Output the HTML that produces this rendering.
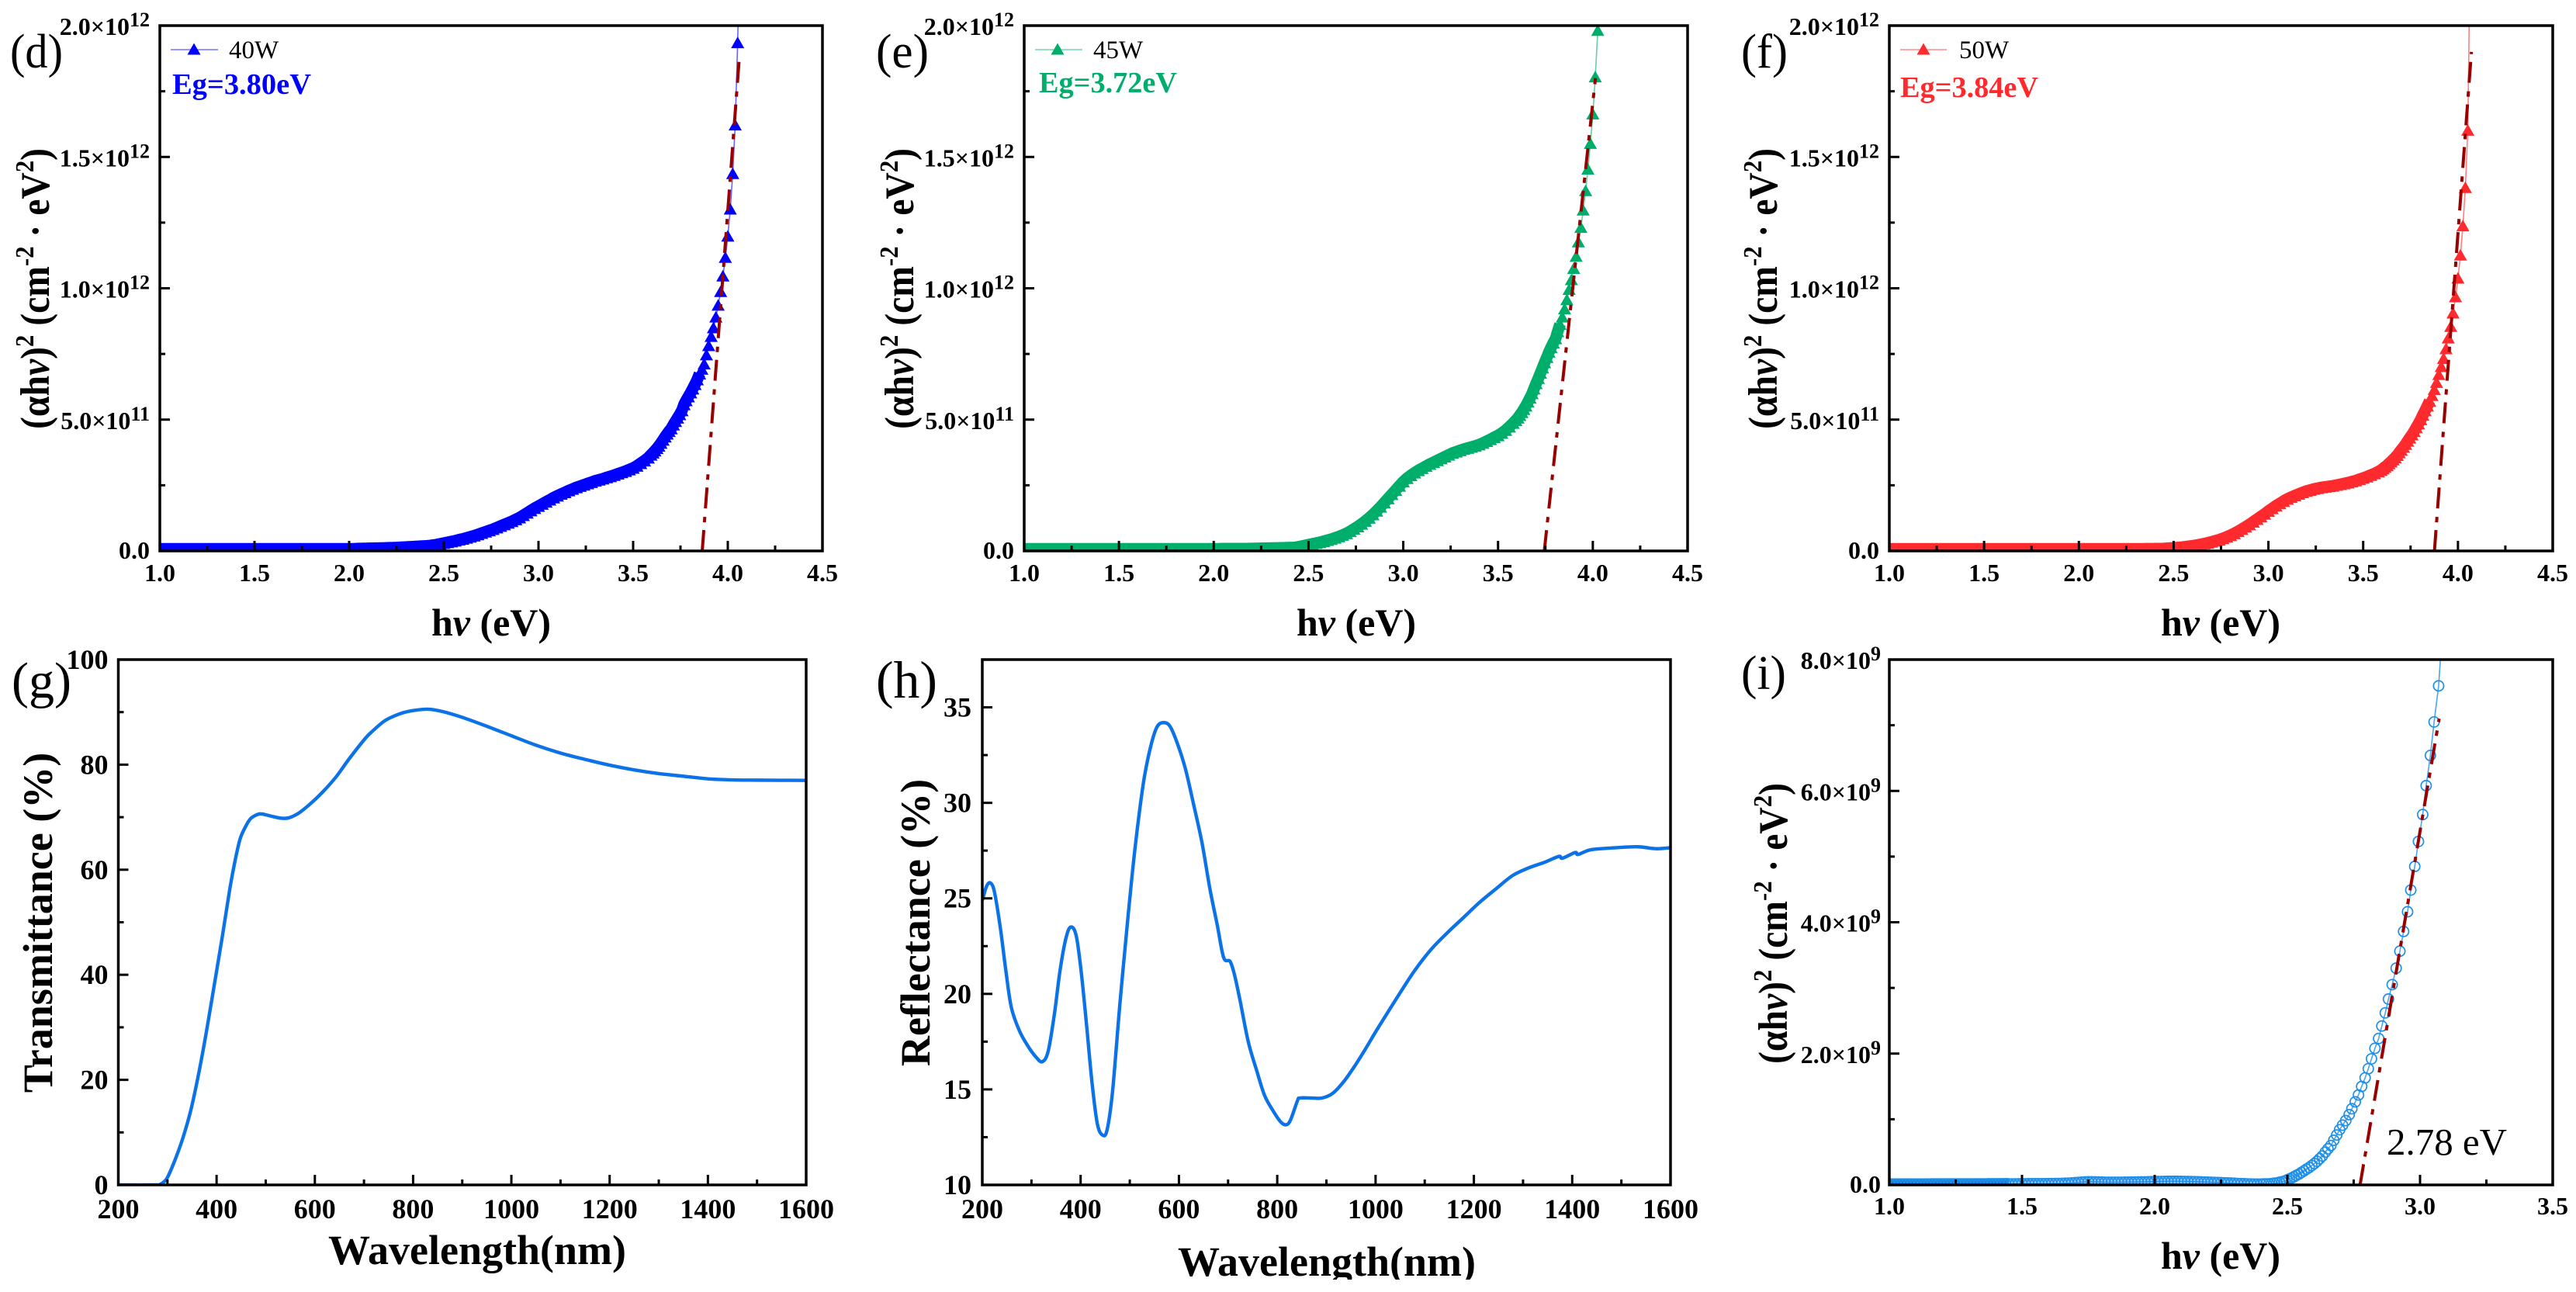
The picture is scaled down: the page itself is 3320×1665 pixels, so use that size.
<!DOCTYPE html>
<html>
<head>
<meta charset="utf-8">
<title>Optical band gap, transmittance and reflectance panels</title>
<style>
html,body{margin:0;padding:0;background:#fff;width:3320px;height:1665px;overflow:hidden}
svg{display:block}
text{font-family:"Liberation Serif","Noto Serif CJK SC",serif;fill:#000}
.b{font-weight:700}
.ytitle,.xtitle{font-weight:700}
</style>
</head>
<body>
<svg id="fig" xmlns="http://www.w3.org/2000/svg" width="3320" height="1665" viewBox="0 0 3320 1665">
<rect width="3320" height="1665" fill="#fff"/>
<defs>
<clipPath id="clip-d"><rect x="206" y="33" width="854" height="677"/></clipPath>
<clipPath id="clip-e"><rect x="1320" y="33" width="855" height="677"/></clipPath>
<clipPath id="clip-f"><rect x="2435" y="33" width="855" height="677"/></clipPath>
<clipPath id="clip-g"><rect x="152.500" y="850" width="886.500" height="677"/></clipPath>
<clipPath id="clip-h"><rect x="1266" y="850" width="887" height="677"/></clipPath>
<clipPath id="clip-i"><rect x="2435" y="850" width="855" height="677"/></clipPath>
</defs>
<g id="layer-data"></g>

<!-- frames -->
<rect x="206" y="33" width="854" height="677" fill="none" stroke="#000" stroke-width="3.5"/>
<rect x="1320" y="33" width="855" height="677" fill="none" stroke="#000" stroke-width="3.5"/>
<rect x="2435" y="33" width="855" height="677" fill="none" stroke="#000" stroke-width="3.5"/>
<rect x="152.500" y="850" width="886.500" height="677" fill="none" stroke="#000" stroke-width="3.5"/>
<rect x="1266" y="850" width="887" height="677" fill="none" stroke="#000" stroke-width="3.5"/>
<rect x="2435" y="850" width="855" height="677" fill="none" stroke="#000" stroke-width="3.5"/>

<!-- panel letters -->
<text x="13" y="87" font-size="62" textLength="68" lengthAdjust="spacingAndGlyphs">(d)</text>
<text x="1129" y="87" font-size="62" textLength="68" lengthAdjust="spacingAndGlyphs">(e)</text>
<text x="2244" y="87" font-size="62" textLength="60" lengthAdjust="spacingAndGlyphs">(f)</text>
<text x="15" y="899" font-size="66" textLength="77" lengthAdjust="spacingAndGlyphs">(g)</text>
<text x="1129" y="899" font-size="68" textLength="79" lengthAdjust="spacingAndGlyphs">(h)</text>
<text x="2244" y="888" font-size="62" textLength="58" lengthAdjust="spacingAndGlyphs">(i)</text>

<!-- x axis titles -->
<text class="xtitle" x="633" y="819" font-size="50" text-anchor="middle">h<tspan font-style="italic">ν</tspan> (eV)</text>
<text class="xtitle" x="1748" y="819" font-size="50" text-anchor="middle">h<tspan font-style="italic">ν</tspan> (eV)</text>
<text class="xtitle" x="2862" y="819" font-size="50" text-anchor="middle">h<tspan font-style="italic">ν</tspan> (eV)</text>
<text class="xtitle" x="615" y="1629" font-size="54" text-anchor="middle">Wavelength(nm)</text>
<text class="xtitle" x="1710" y="1644" font-size="54" text-anchor="middle">Wavelength(nm)</text>
<rect x="1400" y="1649" width="600" height="16" fill="#fff"/>
<text class="xtitle" x="2862" y="1635" font-size="50" text-anchor="middle">h<tspan font-style="italic">ν</tspan> (eV)</text>

<!-- y axis titles -->
<text class="ytitle" transform="translate(63 372) rotate(-90) scale(.9 1)" font-size="53" text-anchor="middle">(αh<tspan font-style="italic">ν</tspan>)<tspan font-size="34" dy="-20">2</tspan><tspan dy="20"> (cm</tspan><tspan font-size="34" dy="-20">-2</tspan><tspan dy="20"> · eV</tspan><tspan font-size="34" dy="-20">2</tspan><tspan dy="20">)</tspan></text>
<text class="ytitle" transform="translate(1177 372) rotate(-90) scale(.9 1)" font-size="53" text-anchor="middle">(αh<tspan font-style="italic">ν</tspan>)<tspan font-size="34" dy="-20">2</tspan><tspan dy="20"> (cm</tspan><tspan font-size="34" dy="-20">-2</tspan><tspan dy="20"> · eV</tspan><tspan font-size="34" dy="-20">2</tspan><tspan dy="20">)</tspan></text>
<text class="ytitle" transform="translate(2290 372) rotate(-90) scale(.9 1)" font-size="53" text-anchor="middle">(αh<tspan font-style="italic">ν</tspan>)<tspan font-size="34" dy="-20">2</tspan><tspan dy="20"> (cm</tspan><tspan font-size="34" dy="-20">-2</tspan><tspan dy="20"> · eV</tspan><tspan font-size="34" dy="-20">2</tspan><tspan dy="20">)</tspan></text>
<text class="ytitle" transform="translate(67 1189) rotate(-90)" font-size="54" text-anchor="middle">Transmittance (%)</text>
<text class="ytitle" transform="translate(1198 1189) rotate(-90)" font-size="54" text-anchor="middle">Reflectance (%)</text>
<text class="ytitle" transform="translate(2303 1190) rotate(-90) scale(.9 1)" font-size="53" text-anchor="middle">(αh<tspan font-style="italic">ν</tspan>)<tspan font-size="34" dy="-20">2</tspan><tspan dy="20"> (cm</tspan><tspan font-size="34" dy="-20">-2</tspan><tspan dy="20"> · eV</tspan><tspan font-size="34" dy="-20">2</tspan><tspan dy="20">)</tspan></text>

<!-- legends -->
<g>
<line x1="220" y1="64" x2="281" y2="64" stroke="#0000ff" stroke-opacity=".55" stroke-width="1.6"/>
<polygon points="250,55.500 241.500,70.500 258.500,70.500" fill="#0000ff"/>
<text x="295" y="75" font-size="33">40W</text>
<text class="b" x="222" y="121" font-size="38" style="fill:#0000ff" textLength="179" lengthAdjust="spacingAndGlyphs">Eg=3.80eV</text>
</g>
<g>
<line x1="1334" y1="64" x2="1395" y2="64" stroke="#00ae6c" stroke-opacity=".55" stroke-width="1.6"/>
<polygon points="1363,55.500 1354.500,70.500 1371.500,70.500" fill="#00ae6c"/>
<text x="1409" y="75" font-size="33">45W</text>
<text class="b" x="1339" y="119" font-size="38" style="fill:#00ae6c" textLength="178" lengthAdjust="spacingAndGlyphs">Eg=3.72eV</text>
</g>
<g>
<line x1="2449" y1="64" x2="2509" y2="64" stroke="#ff2a2e" stroke-opacity=".55" stroke-width="1.6"/>
<polygon points="2479,55.500 2470.500,70.500 2487.500,70.500" fill="#ff2a2e"/>
<text x="2525" y="75" font-size="33">50W</text>
<text class="b" x="2449" y="125" font-size="38" style="fill:#ff2a2e" textLength="178" lengthAdjust="spacingAndGlyphs">Eg=3.84eV</text>
</g>
<text x="3076" y="1488" font-size="49" textLength="155" lengthAdjust="spacingAndGlyphs">2.78 eV</text>

<script>
// ---------- shared photon-energy grid for panels d, e, f (eV) ----------
const hvSteep = [4.066,4.052,4.039,4.026,4.013,4.000,3.987,3.974,3.962,3.949,
3.937,3.924,3.912,3.899,3.887,3.875,3.863,3.851,3.839,3.827,
3.815,3.804,3.792,3.780,3.769,3.758,3.746,3.735,3.724,3.713,
3.701,3.690,3.680,3.669,3.658,3.647,3.636,3.626,3.615,3.605,3.594];
const hvShoulder = [3.58,3.56,3.54,3.52,3.50,3.48,3.46,3.44,3.42,3.40,
3.38,3.36,3.34,3.32,3.30,3.28,3.26,3.24,3.22,3.20,
3.18,3.16,3.14,3.12,3.10,3.08,3.06,3.04,3.02,3.00,
2.98,2.96,2.94,2.92,2.90,2.88,2.86,2.84,2.82,2.80,
2.78,2.76,2.74,2.72,2.70,2.68,2.66,2.64,2.62,2.60,
2.58,2.56,2.54,2.52,2.50,2.48,2.46,2.44,2.42];
const hvFlat = [2.4,2.3875,2.375,2.3625,2.35,2.3375,2.325,2.3125,2.3,2.2875,
2.275,2.2625,2.25,2.2375,2.225,2.2125,2.2,2.1875,2.175,2.1625,
2.15,2.1375,2.125,2.1125,2.1,2.0875,2.075,2.0625,2.05,2.0375,
2.025,2.0125,2,1.9875,1.975,1.9625,1.95,1.9375,1.925,1.9125,
1.9,1.8875,1.875,1.8625,1.85,1.8375,1.825,1.8125,1.8,1.7875,
1.775,1.7625,1.75,1.7375,1.725,1.7125,1.7,1.6875,1.675,1.6625,
1.65,1.6375,1.625,1.6125,1.6,1.5875,1.575,1.5625,1.55,1.5375,
1.525,1.5125,1.5,1.4875,1.475,1.4625,1.45,1.4375,1.425,1.4125,
1.4,1.3875,1.375,1.3625,1.35,1.3375,1.325,1.3125,1.3,1.2875,
1.275,1.2625,1.25,1.2375,1.225,1.2125,1.2,1.1875,1.175,1.1625,
1.15,1.1375,1.125,1.1125,1.1,1.0875,1.075,1.0625,1.05,1.0375,
1.025,1.0125,1];

// ---------- 40 W series, units of 1e12 ----------
const steep40 = [2.40,1.933,1.62,1.435,1.30,1.197,1.116,1.045,.986,.934,
.889,.848,.815,.78,.745,.71,.69,.672,.65,.632,
.615,.60,.585,.57,.555,.532,.517,.504,.491,.478,
.463,.453,.443,.432,.42,.408,.397,.388,.379,.371,.363];
const shoulder40 = [.352,.341,.331,.321,.313,.307,.301,.296,.291,.286,
.281,.277,.272,.268,.264,.259,.254,.249,.244,.239,
.233,.227,.22,.214,.207,.2,.192,.184,.176,.168,
.16,.151,.142,.133,.124,.117,.11,.104,.098,.092,
.086,.08,.075,.07,.065,.06,.055,.051,.047,.043,
.04,.036,.033,.03,.027,.024,.021,.019,.017];
const flat40 = [.016,.0155,.015,.0145,.014,.0135,.013,.0125,.012,.0115,
.011,.0105,.01,.0097,.0094,.0091,.0088,.0085,.0082,.008,
.0078,.0076,.0074,.0072,.007,.0068,.0066,.0064,.0062,.006,
.005,.005,.005,.005,.005,.005,.005,.005,.005,.005,
.005,.005,.005,.005,.005,.005,.005,.005,.005,.005,
.005,.005,.005,.005,.005,.005,.005,.005,.005,.005,
.005,.005,.005,.005,.005,.005,.005,.005,.005,.005,
.005,.005,.005,.005,.005,.005,.005,.005,.005,.005,
.005,.005,.005,.005,.005,.005,.005,.005,.005,.005,
.005,.005,.005,.005,.005,.005,.005,.005,.005,.005,
.005,.005,.005,.005,.005,.005,.005,.005,.005,.005,
.005,.005,.005];

// ---------- 45 W series, units of 1e12 (starts at 4.039 eV) ----------
const steep45 = [2.3,1.98,1.803,1.662,1.55,1.452,1.37,1.296,1.23,
1.175,1.12,1.074,1.031,.994,.955,.92,.889,.861,.833,.806,
.79,.772,.755,.735,.715,.695,.675,.655,.635,.615,
.597,.58,.565,.55,.537,.525,.514,.504,.495];
const shoulder45 = [.484,.47,.457,.446,.437,.43,.422,.415,.408,.402,
.397,.393,.389,.385,.38,.375,.37,.363,.356,.349,
.342,.335,.328,.32,.312,.304,.295,.285,.274,.261,
.245,.229,.213,.197,.181,.165,.15,.136,.123,.111,
.1,.09,.081,.072,.064,.058,.052,.047,.042,.038,
.034,.03,.027,.024,.021,.018,.015,.012,.01];
const flat45 = [.0098,.0095,.0092,.009,.0088,.0086,.0084,.0082,.008,.0078,
.0076,.0074,.0072,.007,.0068,.0066,.0064,.0062,.006,.006,
.006,.006,.006,.006,.006,.006,.006,.006,.006,.006,
.005,.005,.005,.005,.005,.005,.005,.005,.005,.005,
.005,.005,.005,.005,.005,.005,.005,.005,.005,.005,
.005,.005,.005,.005,.005,.005,.005,.005,.005,.005,
.005,.005,.005,.005,.005,.005,.005,.005,.005,.005,
.005,.005,.005,.005,.005,.005,.005,.005,.005,.005,
.005,.005,.005,.005,.005,.005,.005,.005,.005,.005,
.005,.005,.005,.005,.005,.005,.005,.005,.005,.005,
.005,.005,.005,.005,.005,.005,.005,.005,.005,.005,
.005,.005,.005];

// ---------- 50 W series, units of 1e12 ----------
const steep50 = [2.40,1.60,1.382,1.236,1.125,1.037,.966,.904,.853,.809,
.768,.731,.70,.67,.64,.613,.59,.568,.55,.532,
.515,.498,.482,.467,.453,.44,.428,.416,.404,.393,
.382,.372,.362,.353,.345,.337,.33,.323,.317,.311,.305];
const shoulder50 = [.299,.292,.286,.28,.275,.27,.265,.261,.257,.254,
.251,.248,.245,.243,.241,.239,.236,.233,.229,.225,
.22,.214,.208,.202,.195,.187,.178,.169,.159,.149,
.138,.128,.118,.108,.098,.089,.08,.072,.064,.057,
.051,.045,.04,.036,.032,.028,.025,.022,.019,.017,
.015,.013,.011,.01,.009,.008,.007,.006,.006];
const flat50 = [.0058,.0057,.0056,.0055,.0054,.0053,.0052,.0052,.0051,.0051,
.005,.005,.005,.005,.005,.005,.005,.005,.005,.005,
.005,.005,.005,.005,.005,.005,.005,.005,.005,.005,
.005,.005,.005,.005,.005,.005,.005,.005,.005,.005,
.005,.005,.005,.005,.005,.005,.005,.005,.005,.005,
.005,.005,.005,.005,.005,.005,.005,.005,.005,.005,
.005,.005,.005,.005,.005,.005,.005,.005,.005,.005,
.005,.005,.005,.005,.005,.005,.005,.005,.005,.005,
.005,.005,.005,.005,.005,.005,.005,.005,.005,.005,
.005,.005,.005,.005,.005,.005,.005,.005,.005,.005,
.005,.005,.005,.005,.005,.005,.005,.005,.005,.005,
.005,.005,.005];

// ---------- panel i, units of 1e9 ----------
const hvFilm = [3.09,3.07,3.053,3.039,3.023,3.01,2.994,2.98,2.965,2.953,2.938,2.924,2.91,2.895,2.881,2.869,2.856,2.844,2.83,2.817,
2.805,2.793,2.78,2.768,2.756,2.743,2.733,2.72,2.708,2.697,2.686,2.675,2.664,2.653,2.643,2.632,2.622,2.612,2.602,2.592,
2.582,2.572,2.563,2.553,2.544,2.534,2.525,2.516,2.507,2.498,2.49,2.48,2.47,2.46,2.45,2.44,2.43,2.42,2.41];
const filmRise = [8.8,7.60,7.05,6.54,6.08,5.64,5.23,4.85,4.49,4.16,3.86,3.56,3.30,3.05,2.83,2.62,2.42,2.23,2.08,1.92,
1.77,1.63,1.50,1.37,1.265,1.16,1.07,.98,.91,.84,.76,.68,.6,.55,.5,.44,.4,.36,.325,.295,
.265,.24,.215,.19,.165,.145,.125,.105,.09,.075,.06,.05,.04,.03,.025,.02,.015,.015,.015];
const filmFlat = [.012,.012,.013,.014,.016,.018,.02,.022,.025,.028,
.03,.032,.034,.036,.038,.04,.042,.044,.046,.048,
.05,.051,.052,.053,.054,.055,.055,.055,.055,.054,
.053,.052,.05,.049,.048,.047,.046,.045,.044,.043,
.042,.042,.041,.04,.04,.04,.04,.041,.043,.045,
.047,.048,.048,.046,.042,.038,.034,.03,.027,.025,
.023,.022,.021,.02,.02,.019,.019,.018,.018,.018,
.018,.017,.017,.017,.016,.016,.016,.016,.015,.015,
.015,.015,.015,.014,.014,.014,.014,.014,.014,.014,
.013,.013,.013,.013,.013,.013,.013,.013,.013,.013,
.012,.012,.012,.012,.012,.012,.012,.012,.012,.012,
.012,.012,.012];

// ---------- Tauc fit lines (eV, value) ----------
const fit40X = [3.865,4.06];  const fit40Y = [0,1.87];
const fit45X = [3.744,4.014]; const fit45Y = [0,1.80];
const fit50X = [3.876,4.071]; const fit50Y = [0,1.90];
const fitFilmX = [2.774,3.072]; const fitFilmY = [0,7.1];

// ---------- transmittance ----------
const transWavelength = [200,280,285,293,301,316,332,348,364,379,395,411,427,438,448,459,469,483,493,511,532,548,569,595,617,643,669,700,713,740,760,780,800,830,860,900,950,1000,1050,1100,1150,1200,1250,1300,1350,1400,1450,1500,1600];
const transValue = [0,0,.1,.6,1.6,4.9,9.1,14.4,21.4,29,37.9,46.9,56.4,61.9,65.9,68.2,69.7,70.5,70.6,70.2,69.8,69.9,70.9,72.9,74.9,77.65,81,84.7,86,88.2,89.2,89.9,90.3,90.55,90.1,89,87.3,85.5,83.7,82.2,81,79.9,79,78.3,77.8,77.3,77.1,77.05,77];

// ---------- reflectance ----------
const reflWavelength = [200,209,217,225,237,248,259,275,292,309,322,334,347,358,370,380,391,401,412,423,434,445,454,465,480,497,508,519,530,544,556,569,582,597,613,630,647,663,678,691,704,713,724,741,758,774,791,807,818,827,841,846,868,891,913,935,957,979,1001,1024,1046,1079,1112,1146,1179,1212,1245,1279,1312,1345,1373,1380,1406,1412,1439,1489,1533,1570,1600];
const reflValue = [24.9,25.65,25.8,25.3,23.4,21.2,19.3,18.1,17.3,16.7,16.45,17,19,21.2,22.9,23.5,23.05,21.2,18.4,15.4,13.2,12.6,12.9,14.9,19.5,24.2,27,29.4,31.4,33.1,34,34.2,34,33.1,31.8,29.9,27.9,25.5,23.6,21.9,21.7,21,19.7,17.5,16,14.7,13.9,13.3,13.15,13.4,14.4,14.55,14.55,14.55,14.8,15.4,16.2,17.1,18.05,19,19.9,21.2,22.3,23.2,24,24.8,25.5,26.2,26.6,26.9,27.2,27.1,27.4,27.3,27.55,27.65,27.7,27.6,27.65];

// ---------- tick values and printed labels ----------
const tauc1Ticks = [1,1.5,2,2.5,3,3.5,4,4.5];
const tauc1TickLabels = ['1.0','1.5','2.0','2.5','3.0','3.5','4.0','4.5'];
const tauc1Minor = [1.25,1.75,2.25,2.75,3.25,3.75,4.25];
const taucYTicks = [0,.5,1,1.5,2];
const taucYLabels = ['0.0','5.0×10','1.0×10','1.5×10','2.0×10'];
const taucYExps = ['','11','12','12','12'];
const taucYMinor = [.25,.75,1.25,1.75];
const waveTicks = [200,400,600,800,1000,1200,1400,1600];
const waveTickLabels = ['200','400','600','800','1000','1200','1400','1600'];
const waveMinor = [300,500,700,900,1100,1300,1500];
const transYTicks = [0,20,40,60,80,100];
const transYLabels = ['0','20','40','60','80','100'];
const transYMinor = [10,30,50,70,90];
const reflYTicks = [10,15,20,25,30,35];
const reflYLabels = ['10','15','20','25','30','35'];
const reflYMinor = [12.5,17.5,22.5,27.5,32.5];
const filmXTicks = [1,1.5,2,2.5,3,3.5];
const filmXLabels = ['1.0','1.5','2.0','2.5','3.0','3.5'];
const filmXMinor = [1.25,1.75,2.25,2.75,3.25];
const filmYTicks = [0,2,4,6,8];
const filmYLabels = ['0.0','2.0×10','4.0×10','6.0×10','8.0×10'];
const filmYExps = ['','9','9','9','9'];
const filmYMinor = [1,3,5,7];

const NS = 'http://www.w3.org/2000/svg';
const layer = document.getElementById('layer-data');

function makeScale(d0, d1, r0, r1) {
  return function (v) { return r0 + (v - d0) * (r1 - r0) / (d1 - d0); };
}
function pathFrom(xs, ys, sx, sy) {
  let d = '';
  for (let i = 0; i < xs.length; i++) {
    d += (i ? 'L' : 'M') + sx(xs[i]).toFixed(2) + ' ' + sy(ys[i]).toFixed(2);
  }
  return d;
}
function smoothPathFrom(xs, ys, sx, sy) {
  const n = xs.length;
  function X(i) { return sx(xs[Math.max(0, Math.min(n - 1, i))]); }
  function Y(i) { return sy(ys[Math.max(0, Math.min(n - 1, i))]); }
  let d = 'M' + X(0).toFixed(2) + ' ' + Y(0).toFixed(2);
  for (let i = 0; i < n - 1; i++) {
    d += 'C' + (X(i) + (X(i + 1) - X(i - 1)) / 6).toFixed(2) + ' ' + (Y(i) + (Y(i + 1) - Y(i - 1)) / 6).toFixed(2) +
      ' ' + (X(i + 1) - (X(i + 2) - X(i)) / 6).toFixed(2) + ' ' + (Y(i + 1) - (Y(i + 2) - Y(i)) / 6).toFixed(2) +
      ' ' + X(i + 1).toFixed(2) + ' ' + Y(i + 1).toFixed(2);
  }
  return d;
}

function drawAxes(p) {
  const sx = p.sx, sy = p.sy;
  const g = document.createElementNS(NS, 'g');
  
  
  layer.appendChild(g);
  function tick(x1, y1, x2, y2, w) {
    const t = document.createElementNS(NS, 'line');
    
    
    t.setAttribute('x1', x1); t.setAttribute('y1', y1);
    t.setAttribute('x2', x2); t.setAttribute('y2', y2);
    t.setAttribute('stroke', '#000');
    t.setAttribute('stroke-width', w);
    g.appendChild(t);
  }
  p.xTicks.forEach(function (v, i) {
    const x = sx(v);
    tick(x, p.y1, x, p.y1 - 13, 3);
    const t = document.createElementNS(NS, 'text');
    
    
    t.setAttribute('x', x);
    t.setAttribute('y', p.y1 + p.xLabelDy);
    t.setAttribute('text-anchor', 'middle');
    t.setAttribute('font-size', p.tickFont);
    t.setAttribute('font-weight', '700');
    t.textContent = p.xLabels[i];
    g.appendChild(t);
  });
  p.xMinor.forEach(function (v) { tick(sx(v), p.y1, sx(v), p.y1 - 7, 3); });
  p.yTicks.forEach(function (v, i) {
    const y = sy(v);
    tick(p.x0, y, p.x0 + 13, y, 3);
    const t = document.createElementNS(NS, 'text');
    
    
    t.setAttribute('x', p.x0 - p.yLabelGap);
    t.setAttribute('y', y + (i === 0 && p.yExps ? 10 : 12));
    t.setAttribute('text-anchor', 'end');
    t.setAttribute('font-size', p.tickFont);
    t.setAttribute('font-weight', '700');
    const main = document.createElementNS(NS, 'tspan');
    main.textContent = p.yLabels[i];
    t.appendChild(main);
    if (p.yExps && p.yExps[i]) {
      const sup = document.createElementNS(NS, 'tspan');
      sup.setAttribute('dy', '-11');
      sup.setAttribute('font-size', '26');
      sup.textContent = p.yExps[i];
      t.appendChild(sup);
    }
    g.appendChild(t);
  });
  p.yMinor.forEach(function (v) { tick(p.x0, sy(v), p.x0 + 7, sy(v), 3); });
}

function drawThinLine(p, xs, ys, color, opacity, width, name) {
  const line = document.createElementNS(NS, 'path');
  
  
  line.setAttribute('d', pathFrom(xs, ys, p.sx, p.sy));
  line.setAttribute('fill', 'none');
  line.setAttribute('stroke', color);
  line.setAttribute('stroke-opacity', opacity);
  line.setAttribute('stroke-width', width);
  line.setAttribute('stroke-linejoin', 'round');
  line.setAttribute('clip-path', 'url(#clip-' + p.id + ')');
  layer.appendChild(line);
}

function drawSmoothCurve(p, xs, ys, color, width, name) {
  const line = document.createElementNS(NS, 'path');
  
  
  line.setAttribute('d', smoothPathFrom(xs, ys, p.sx, p.sy));
  line.setAttribute('fill', 'none');
  line.setAttribute('stroke', color);
  line.setAttribute('stroke-width', width);
  line.setAttribute('stroke-linejoin', 'round');
  line.setAttribute('clip-path', 'url(#clip-' + p.id + ')');
  layer.appendChild(line);
}

// densely overlapping markers merge into a solid band; this fills the gaps between them
function drawBand(p, xs, ys, color, width, opacity, lift, name) {
  const wrap = document.createElementNS(NS, 'g');
  
  
  wrap.setAttribute('clip-path', 'url(#clip-' + p.id + ')');
  layer.appendChild(wrap);
  const band = document.createElementNS(NS, 'path');
  
  
  band.setAttribute('d', pathFrom(xs, ys, p.sx, p.sy));
  band.setAttribute('transform', 'translate(0 ' + (-lift) + ')');
  band.setAttribute('fill', 'none');
  band.setAttribute('stroke', color);
  band.setAttribute('stroke-opacity', opacity);
  band.setAttribute('stroke-width', width);
  band.setAttribute('stroke-linejoin', 'round');
  wrap.appendChild(band);
}

function drawFit(p, xs, ys) {
  const f = document.createElementNS(NS, 'path');
  
  
  f.setAttribute('d', pathFrom(xs, ys, p.sx, p.sy));
  f.setAttribute('fill', 'none');
  f.setAttribute('stroke', '#990000');
  f.setAttribute('stroke-width', '4');
  f.setAttribute('stroke-dasharray', '27 10 7 11');
  f.setAttribute('clip-path', 'url(#clip-' + p.id + ')');
  layer.appendChild(f);
}

function drawTriangles(p, xs, ys, color, name) {
  const g = document.createElementNS(NS, 'g');
  
  
  g.setAttribute('clip-path', 'url(#clip-' + p.id + ')');
  layer.appendChild(g);
  for (let i = 0; i < xs.length; i++) {
    const cx = p.sx(xs[i]), cy = p.sy(ys[i]);
    const m = document.createElementNS(NS, 'polygon');
    
    
    m.setAttribute('points', cx + ',' + (cy - 8.5) + ' ' + (cx - 8.5) + ',' + (cy + 6.5) + ' ' + (cx + 8.5) + ',' + (cy + 6.5));
    m.setAttribute('fill', color);
    g.appendChild(m);
  }
}

function drawCircles(p, xs, ys, color, name) {
  const g = document.createElementNS(NS, 'g');
  
  
  g.setAttribute('clip-path', 'url(#clip-' + p.id + ')');
  layer.appendChild(g);
  for (let i = 0; i < xs.length; i++) {
    const m = document.createElementNS(NS, 'circle');
    
    
    m.setAttribute('cx', p.sx(xs[i]));
    m.setAttribute('cy', p.sy(ys[i]));
    m.setAttribute('r', '6.6');
    m.setAttribute('fill', 'none');
    m.setAttribute('stroke', color);
    m.setAttribute('stroke-width', '1.7');
    g.appendChild(m);
  }
}

function taucPanel(id, x0, x1) {
  return {
    id: id, x0: x0, x1: x1, y0: 33, y1: 710,
    sx: makeScale(1, 4.5, x0, x1), sy: makeScale(0, 2, 710, 33),
    xTicks: tauc1Ticks, xLabels: tauc1TickLabels, xMinor: tauc1Minor,
    yTicks: taucYTicks, yLabels: taucYLabels, yExps: taucYExps, yMinor: taucYMinor,
    tickFont: 32, xLabelDy: 39, yLabelGap: 13
  };
}

const panelD = taucPanel('d', 206, 1060);
const panelE = taucPanel('e', 1320, 2175);
const panelF = taucPanel('f', 2435, 3290);

const hv40 = hvSteep.concat(hvShoulder, hvFlat);
const y40 = steep40.concat(shoulder40, flat40);
drawThinLine(panelD, hv40, y40, '#0000ff', .6, 1.6, 'series-line-40w');
drawBand(panelD, hvSteep.slice(17).concat(hvShoulder, hvFlat), steep40.slice(17).concat(shoulder40, flat40), '#0000ff', 15, 1, 1, 'series-band-40w');
drawTriangles(panelD, hv40, y40, '#0000ff', 'series-markers-40w');
drawFit(panelD, fit40X, fit40Y);
drawAxes(panelD);

const hv45 = hvSteep.slice(2).concat(hvShoulder, hvFlat);
const y45 = steep45.concat(shoulder45, flat45);
drawThinLine(panelE, hv45, y45, '#00ae6c', .6, 1.6, 'series-line-45w');
drawBand(panelE, hvSteep.slice(19).concat(hvShoulder, hvFlat), steep45.slice(17).concat(shoulder45, flat45), '#00ae6c', 15, 1, 1, 'series-band-45w');
drawTriangles(panelE, hv45, y45, '#00ae6c', 'series-markers-45w');
drawFit(panelE, fit45X, fit45Y);
drawAxes(panelE);

const hv50 = hvSteep.concat(hvShoulder, hvFlat);
const y50 = steep50.concat(shoulder50, flat50);
drawThinLine(panelF, hv50, y50, '#ff2a2e', .6, 1.6, 'series-line-50w');
drawBand(panelF, hvSteep.slice(17).concat(hvShoulder, hvFlat), steep50.slice(17).concat(shoulder50, flat50), '#ff2a2e', 15, 1, 1, 'series-band-50w');
drawTriangles(panelF, hv50, y50, '#ff2a2e', 'series-markers-50w');
drawFit(panelF, fit50X, fit50Y);
drawAxes(panelF);

const panelG = {
  id: 'g', x0: 152.5, x1: 1039, y0: 850, y1: 1527,
  sx: makeScale(200, 1600, 152.5, 1039), sy: makeScale(0, 100, 1527, 850),
  xTicks: waveTicks, xLabels: waveTickLabels, xMinor: waveMinor,
  yTicks: transYTicks, yLabels: transYLabels, yMinor: transYMinor,
  tickFont: 36, xLabelDy: 43, yLabelGap: 13
};
drawSmoothCurve(panelG, transWavelength, transValue, '#0b72e7', 4.4, 'transmittance-curve');
drawAxes(panelG);

const panelH = {
  id: 'h', x0: 1266, x1: 2153, y0: 850, y1: 1527,
  sx: makeScale(200, 1600, 1266, 2153), sy: makeScale(10, 37.5, 1527, 850),
  xTicks: waveTicks, xLabels: waveTickLabels, xMinor: waveMinor,
  yTicks: reflYTicks, yLabels: reflYLabels, yMinor: reflYMinor,
  tickFont: 36, xLabelDy: 43, yLabelGap: 14
};
drawSmoothCurve(panelH, reflWavelength, reflValue, '#0b72e7', 4.4, 'reflectance-curve');
drawAxes(panelH);

const panelI = {
  id: 'i', x0: 2435, x1: 3290, y0: 850, y1: 1527,
  sx: makeScale(1, 3.5, 2435, 3290), sy: makeScale(0, 8, 1527, 850),
  xTicks: filmXTicks, xLabels: filmXLabels, xMinor: filmXMinor,
  yTicks: filmYTicks, yLabels: filmYLabels, yExps: filmYExps, yMinor: filmYMinor,
  tickFont: 32, xLabelDy: 38, yLabelGap: 11
};
const hvI = hvFilm.concat(hvFlat);
const yI = filmRise.concat(filmFlat);
drawThinLine(panelI, hvI, yI, '#1e8fe8', .8, 1.6, 'series-line-film');
drawBand(panelI, hvFlat.slice(0, 77), filmFlat.slice(0, 77), '#0d75e0', 14, .4, 0, 'series-band-film-hatched');
drawBand(panelI, hvFlat.slice(76), filmFlat.slice(76), '#0d75e0', 15, 1, 0, 'series-band-film-solid');
drawCircles(panelI, hvI, yI, '#1e8fe8', 'series-markers-film');
drawFit(panelI, fitFilmX, fitFilmY);
drawAxes(panelI);
</script>
</svg>
</body>
</html>
